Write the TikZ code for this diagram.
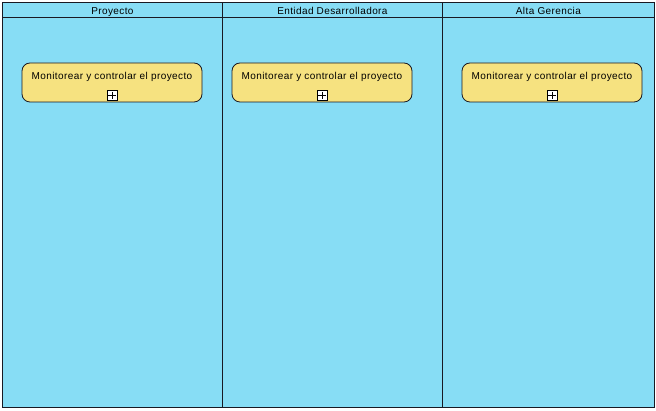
\documentclass[tikz,border=0pt]{standalone}
\usepackage{fontspec}
\setmainfont{Liberation Sans}
\usepackage{tikz}
\usetikzlibrary{positioning}
\definecolor{LaneBlue}{RGB}{135,221,245}
\definecolor{TaskYellow}{RGB}{246,226,128}
\definecolor{EdgeDark}{RGB}{25,25,35}

\begin{document}
\begin{tikzpicture}[x=1pt,y=-1pt,
	lane/.style={rectangle,draw=EdgeDark,line width=0.8pt,fill=LaneBlue,anchor=north west,
		minimum width=220pt,minimum height=405pt,inner sep=0pt},
	header/.style={rectangle,draw=EdgeDark,line width=0.8pt,anchor=north west,
		minimum width=220pt,minimum height=15pt,inner sep=0pt,text height=9.6pt,text depth=0pt,
		font=\fontsize{10pt}{12pt}\selectfont\addfontfeatures{LetterSpace=4}},
	task/.style={rectangle,draw=EdgeDark,line width=0.8pt,fill=TaskYellow,rounded corners=8pt,
		minimum width=180pt,minimum height=39pt},
	tasktext/.style={font=\fontsize{10pt}{12pt}\selectfont\addfontfeatures{LetterSpace=4},
		inner sep=0pt,anchor=base},
	plusbox/.style={rectangle,draw=black,line width=0.6pt,fill=white,minimum size=10pt,inner sep=0pt}]
			\useasboundingbox (0,0) rectangle (656,411);
			\node [lane, name = l1] at (2,2) {};
			\node [lane, name = l2] at (222,2) {};
			\node [lane, name = l3, minimum width=212pt] at (442,2) {};
			\node [header, name = h1] at (2,2) {Proyecto};
			\node [header, name = h2] at (222,2) {Entidad Desarrolladora};
			\node [header, name = h3, minimum width=212pt] at (442,2) {Alta Gerencia};
			\node [task, name = t1] at (112,82.5) {};
			\node [task, name = t2] at (322,82.5) {};
			\node [task, name = t3] at (552,82.5) {};
			\node [tasktext] at (112,79.5) {Monitorear y controlar el proyecto};
			\node [tasktext] at (322,79.5) {Monitorear y controlar el proyecto};
			\node [tasktext] at (552,79.5) {Monitorear y controlar el proyecto};
			\node [plusbox, name = p1] at (112,95.5) {};
			\node [plusbox, name = p2] at (322,95.5) {};
			\node [plusbox, name = p3] at (552,95.5) {};
			\foreach \p in {p1,p2,p3} {
				\draw [line width=0.6pt] ([yshift=-1.5pt]\p.north) -- ([yshift=1.5pt]\p.south);
				\draw [line width=0.6pt] ([xshift=1.5pt]\p.west) -- ([xshift=-1.5pt]\p.east);
			}
		\end{tikzpicture}
\end{document}
